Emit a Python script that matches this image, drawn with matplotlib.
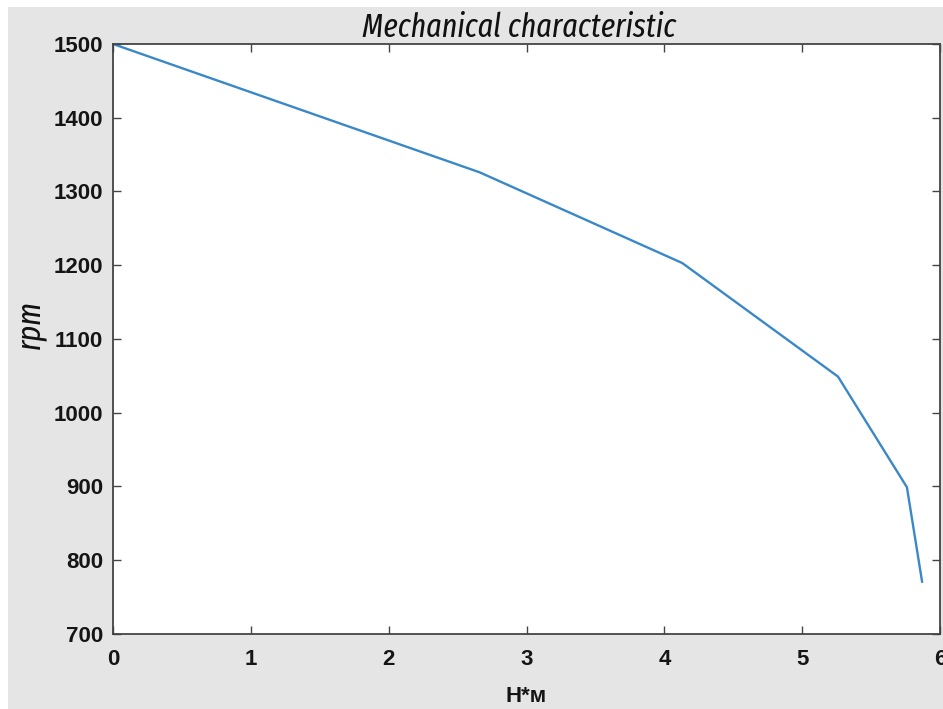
import matplotlib
matplotlib.use("Agg")
import matplotlib.pyplot as plt
from matplotlib.patches import Rectangle

torque = [0.0, 2.66, 4.13, 5.26, 5.76, 5.87]
rpm = [1500, 1326, 1203, 1049, 899, 771]
xticks = [0, 1, 2, 3, 4, 5, 6]
yticks = [700, 800, 900, 1000, 1100, 1200, 1300, 1400, 1500]

W, H = 943, 709
cond_font = ['Fira Sans Extra Condensed', 'Roboto Condensed', 'DejaVu Sans']

fig = plt.figure(figsize=(W/100, H/100), dpi=100, facecolor='white')
fig.patches.append(Rectangle((8/W, 0), 1, 1 - 7/H, transform=fig.transFigure,
                             facecolor='#e5e5e5', edgecolor='none', zorder=-10))
L, R, T, B = 113, 940, 44, 634
ax = fig.add_axes([L/W, (H-B)/H, (R-L)/W, (B-T)/H])
ax.set_facecolor('white')
ax.plot(torque, rpm, color='#3a88c8', linewidth=1.7)
ax.set_xlim(0, 6)
ax.set_ylim(700, 1500)
ax.set_xticks(xticks)
ax.set_yticks(yticks)
ax.tick_params(direction='in', length=6, width=1.0, color='#444444',
               top=True, right=True, labelsize=16)
ax.tick_params(axis='x', pad=11)
ax.tick_params(axis='y', pad=7)
for lab in ax.get_xticklabels() + ax.get_yticklabels():
    lab.set_fontfamily('Liberation Sans')
    lab.set_fontweight('bold')
    lab.set_color('#151515')
for s in ax.spines.values():
    s.set_color('#444444')
    s.set_linewidth(1.3)

fig.text(519/W, 1 - 37/H, 'Mechanical characteristic', family=cond_font,
         style='italic', weight='normal', fontsize=23.5, ha='center', va='baseline',
         color='#111111')
ax.set_xlabel('H*м', family='Liberation Sans', fontweight='bold', fontsize=16,
              color='#151515')
ax.xaxis.set_label_coords(0.5, (B - 696) / (B - T))
ax.xaxis.label.set_va('center')
ax.set_ylabel('rpm', family=cond_font, style='italic', weight='normal',
              fontsize=23.5, color='#111111')
ax.yaxis.set_label_coords((30 - L) / (R - L), (B - 325) / (B - T))
ax.yaxis.label.set_va('center')
ax.yaxis.label.set_ha('center')
fig.savefig('out.png', dpi=100, facecolor=fig.get_facecolor())
